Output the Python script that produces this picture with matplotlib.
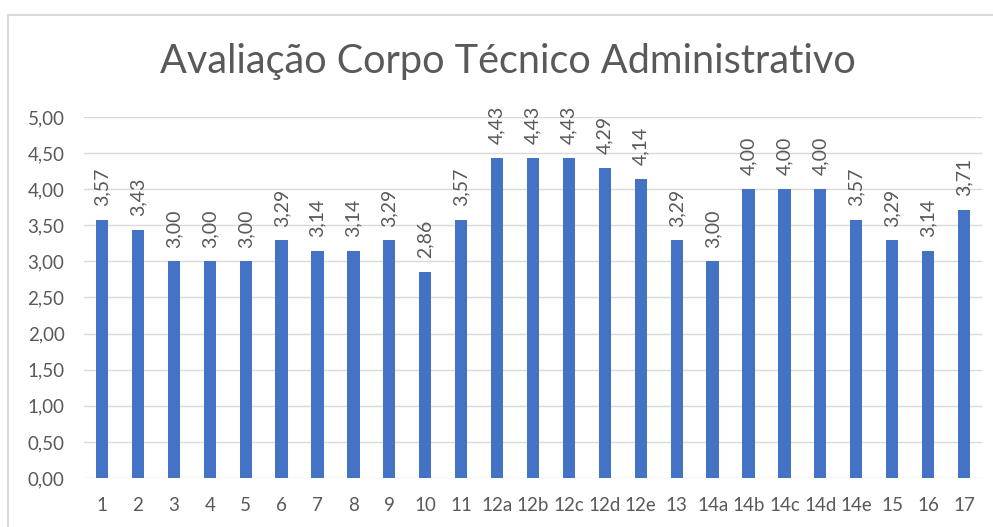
import matplotlib
matplotlib.use("Agg")
import matplotlib.pyplot as plt
from matplotlib.patches import Rectangle

plt.rcParams['font.family'] = ['Lato', 'DejaVu Sans']

categorias = ['1', '2', '3', '4', '5', '6', '7', '8', '9', '10', '11',
              '12a', '12b', '12c', '12d', '12e', '13',
              '14a', '14b', '14c', '14d', '14e', '15', '16', '17']
notas = [3.57, 3.43, 3.00, 3.00, 3.00, 3.29, 3.14, 3.14, 3.29, 2.86, 3.57,
         4.43, 4.43, 4.43, 4.29, 4.14, 3.29,
         3.00, 4.00, 4.00, 4.00, 3.57, 3.29, 3.14, 3.71]
yticks = [0, 0.5, 1.0, 1.5, 2.0, 2.5, 3.0, 3.5, 4.0, 4.5, 5.0]

cor_barra = '#4472C4'
cor_texto = '#595959'
cor_grade = '#D9D9D9'

fig = plt.figure(figsize=(9.93, 5.27), dpi=100)
# moldura do grafico (cortada a direita e embaixo)
fig.patches.append(Rectangle((8/993, -0.1), 1.2, (527-15)/527 + 0.1,
                             transform=fig.transFigure, fill=False,
                             edgecolor=cor_grade, linewidth=1.5))

ax = fig.add_axes([84/993, (527-478)/527, (982-84)/993, (478-117)/527])
x = range(len(categorias))
ax.bar(x, notas, width=0.34, color=cor_barra, zorder=3)

for xi, v in zip(x, notas):
    ax.annotate(f'{v:.2f}'.replace('.', ','), (xi, v), xytext=(0, 10),
                textcoords='offset points', rotation=90, ha='center',
                va='bottom', fontsize=14, color=cor_texto)

ax.set_xlim(-0.5, len(categorias) - 0.5)
ax.set_ylim(0, 5)
ax.set_yticks(yticks)
ax.set_yticklabels([f'{t:.2f}'.replace('.', ',') for t in yticks])
ax.set_xticks(list(x))
ax.set_xticklabels(categorias)
ax.tick_params(axis='both', length=0, labelsize=13.5, labelcolor=cor_texto)
ax.tick_params(axis='x', pad=14)
ax.tick_params(axis='y', pad=14)
ax.grid(axis='y', color=cor_grade, linewidth=1, zorder=0)
for s in ax.spines.values():
    s.set_visible(False)
ax.set_facecolor('none')

fig.text(508/993, 1 - 62/527, 'Avaliação Corpo Técnico Administrativo',
         ha='center', va='center', fontsize=28.5, color=cor_texto)

fig.savefig('out.png', dpi=100)
